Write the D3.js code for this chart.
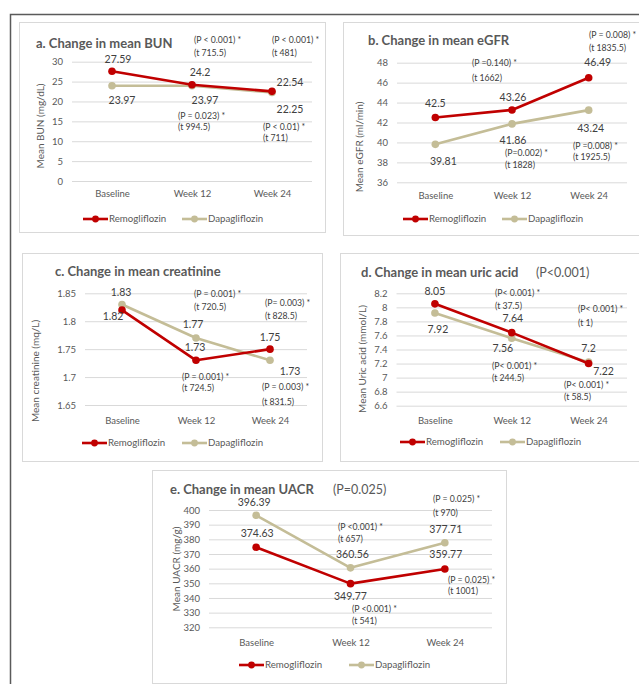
<!DOCTYPE html>
<html>
<head>
<meta charset="utf-8">
<script src="https://cdn.jsdelivr.net/npm/d3@7"></script>
<style>
  html, body { margin: 0; padding: 0; background: #fff; }
  svg { display: block; font-family: Lato, "Open Sans", sans-serif; }
</style>
</head>
<body>
<svg id="chart" width="639" height="684"></svg>
<script>
// ---- data ----
const categories = ["Baseline", "Week 12", "Week 24"];
const seriesNames = ["Remogliflozin", "Dapagliflozin"];

const bunRemo = [27.59, 24.2, 22.54];
const bunDapa = [23.97, 23.97, 22.25];
const bunTicks = [0, 5, 10, 15, 20, 25, 30];

const egfrRemo = [42.5, 43.26, 46.49];
const egfrDapa = [39.81, 41.86, 43.24];
const egfrTicks = [36, 38, 40, 42, 44, 46, 48];

const creatRemo = [1.82, 1.73, 1.75];
const creatDapa = [1.83, 1.77, 1.73];
const creatTicks = [1.65, 1.7, 1.75, 1.8, 1.85];

const uricRemo = [8.05, 7.64, 7.2];
const uricDapa = [7.92, 7.56, 7.22];
const uricTicks = [6.6, 6.8, 7, 7.2, 7.4, 7.6, 7.8, 8, 8.2];

const uacrRemo = [374.63, 349.77, 359.77];
const uacrDapa = [396.39, 360.56, 377.71];
const uacrTicks = [320, 330, 340, 350, 360, 370, 380, 390, 400];

// statistical test annotations: [p-value line, test-statistic line]
const bunStats = [["(P < 0.001) *", "(t 715.5)"], ["(P < 0.001) *", "(t 481)"], ["(P = 0.023) *", "(t 994.5)"], ["(P < 0.01) *", "(t 711)"]];
const egfrStats = [["(P = 0.008) *", "(t 1835.5)"], ["(P =0.140) *", "(t 1662)"], ["(P=0.002) *", "(t 1828)"], ["(P =0.008) *", "(t 1925.5)"]];
const creatStats = [["(P = 0.001) *", "(t 720.5)"], ["(P = 0.001) *", "(t 724.5)"], ["(P= 0.003) *", "(t 828.5)"], ["(P = 0.003) *", "(t 831.5)"]];
const uricStats = [["(P< 0.001) *", "(t 37.5)"], ["(P< 0.001) *", "(t 244.5)"], ["(P< 0.001) *", "(t 1)"], ["(P< 0.001) *", "(t 58.5)"]];
const uacrStats = [["(P <0.001) *", "(t 657)"], ["(P <0.001) *", "(t 541)"], ["(P = 0.025) *", "(t 970)"], ["(P = 0.025) *", "(t 1001)"]];

// ---- styles ----
const COLORS = { remo: "#C00000", dapa: "#C4BD97" };
const TEXT_DARK = "#404040";
const TEXT_MID = "#595959";
const GRID = "#d9d9d9";

// ---- layout of each panel ----
const panels = [
  {
    title: "a. Change in mean BUN", note: null, yTitle: "Mean BUN (mg/dL)",
    remo: bunRemo, dapa: bunDapa, ticks: bunTicks, stats: bunStats,
    box: [19, 22, 306, 210], plot: [72, 312, 61.7, 181],
    titleAt: [36, 47.5], yTitleAt: [40, 126], xLabelY: 197,
    legend: { y: 219, remoX: 83, dapaX: 182 },
    valueOffsets: { remo: [[6, -12], [8, -12], [18, -9]], dapa: [[10, 15], [13, 15], [18, 17]] },
    statsAt: [[194, 40, 53], [272, 40, 53], [178, 116, 127], [263, 127, 138]]
  },
  {
    title: "b. Change in mean eGFR", note: null, yTitle: "Mean eGFR (ml/min)",
    remo: egfrRemo, dapa: egfrDapa, ticks: egfrTicks, stats: egfrStats,
    box: [343, 22, 296, 213], plot: [397, 627, 62.7, 182.3],
    titleAt: [368, 44.5], yTitleAt: [359, 147], xLabelY: 199,
    legend: { y: 219, remoX: 403, dapaX: 502 },
    valueOffsets: { remo: [[0, -14], [1, -13], [9, -15]], dapa: [[8, 17], [1, 16], [2, 18]] },
    statsAt: [[589, 35, 48], [472, 63, 78], [505, 153, 165], [573, 146, 157]]
  },
  {
    title: "c. Change in mean creatinine", note: null, yTitle: "Mean creatinine (mq/L)",
    remo: creatRemo, dapa: creatDapa, ticks: creatTicks, stats: creatStats,
    box: [22, 253, 300, 208], plot: [85, 307, 293.3, 405],
    titleAt: [55, 275.5], yTitleAt: [35, 371], xLabelY: 424,
    legend: { y: 443, remoX: 82, dapaX: 182 },
    valueOffsets: { remo: [[-9, 6], [-1, -13], [0, -12]], dapa: [[-1, -12], [-3, -14], [20, 11]] },
    statsAt: [[194, 294, 307], [182, 377, 388], [265, 303, 316], [262, 387, 402]]
  },
  {
    title: "d. Change in mean uric acid", note: { text: "(P<0.001)", x: 536 }, yTitle: "Mean Uric acid (mmol/L)",
    remo: uricRemo, dapa: uricDapa, ticks: uricTicks, stats: uricStats,
    box: [340, 253, 299, 208], plot: [396.5, 627, 293.3, 405.7],
    titleAt: [361, 276.5], yTitleAt: [362, 359], xLabelY: 424,
    legend: { y: 442, remoX: 400, dapaX: 500 },
    valueOffsets: { remo: [[0, -13], [1, -14], [0, -15]], dapa: [[3, 16], [-9, 10], [15, 9.5]] },
    statsAt: [[495, 293, 306], [492, 366, 378], [578, 309, 323], [564, 384.5, 397]]
  },
  {
    title: "e. Change in mean UACR", note: { text: "(P=0.025)", x: 333 }, yTitle: "Mean UACR (mg/g)",
    remo: uacrRemo, dapa: uacrDapa, ticks: uacrTicks, stats: uacrStats,
    box: [152, 470, 354, 213], plot: [209, 492, 510, 627.3],
    titleAt: [170, 493.5], yTitleAt: [176, 569], xLabelY: 646,
    legend: { y: 665, remoX: 239, dapaX: 349 },
    valueOffsets: { remo: [[1, -14], [0, 13], [1, -15]], dapa: [[-2, -12.5], [2, -14], [1, -13]] },
    statsAt: [[338, 527, 539], [352, 609, 621], [433, 499, 513], [448, 580, 591]]
  }
];

const svg = d3.select("#chart");

// outer frame around the whole figure
svg.append("path")
  .attr("d", "M10.5,684 L10.5,14.5 L639,14.5")
  .attr("fill", "none").attr("stroke", "#5a5a5a").attr("stroke-width", 1.5);

function drawPanel(p) {
  const g = svg.append("g");
  const [bx, by, bw, bh] = p.box;
  g.append("rect").attr("x", bx + 0.5).attr("y", by + 0.5).attr("width", bw).attr("height", bh)
    .attr("fill", "#fff").attr("stroke", GRID).attr("stroke-width", 1);

  const [x0, x1, yTop, yBottom] = p.plot;
  const x = d3.scalePoint().domain(categories).range([x0, x1]).padding(0.5);
  const y = d3.scaleLinear().domain([p.ticks[0], p.ticks[p.ticks.length - 1]]).range([yBottom, yTop]);

  // horizontal gridlines + y tick labels via a left axis
  const yAxis = d3.axisLeft(y).tickValues(p.ticks).tickFormat(d => String(d))
    .tickSize(-(x1 - x0)).tickPadding(9);
  const ya = g.append("g").attr("transform", `translate(${x0},0)`).call(yAxis);
  ya.select(".domain").remove();
  ya.selectAll(".tick line").attr("stroke", GRID).attr("stroke-width", 1);
  ya.selectAll(".tick text").attr("fill", TEXT_MID).style("font-size", "9.5px").style("font-family", "Lato, sans-serif");

  // category labels
  const xAxis = d3.axisBottom(x).tickSize(0).tickPadding(0);
  const xa = g.append("g").attr("transform", `translate(0,${p.xLabelY - 6.5})`).call(xAxis);
  xa.select(".domain").remove();
  xa.selectAll(".tick text").attr("fill", TEXT_MID).style("font-size", "9.5px").style("font-family", "Lato, sans-serif");

  // title
  g.append("text").attr("x", p.titleAt[0]).attr("y", p.titleAt[1])
    .attr("fill", TEXT_MID).style("font-size", "13px").style("font-weight", "bold").text(p.title);
  if (p.note) {
    g.append("text").attr("x", p.note.x).attr("y", p.titleAt[1])
      .attr("fill", TEXT_MID).style("font-size", "12.5px").text(p.note.text);
  }

  // y-axis title
  g.append("text").attr("transform", `translate(${p.yTitleAt[0]},${p.yTitleAt[1]}) rotate(-90)`)
    .attr("text-anchor", "middle").attr("dy", "0.35em")
    .attr("fill", TEXT_MID).style("font-size", "10px").text(p.yTitle);

  // series lines and markers
  const line = d3.line().x((d, i) => x(categories[i])).y(d => y(d));
  [["dapa", p.dapa], ["remo", p.remo]].forEach(([key, vals]) => {
    g.append("path").datum(vals).attr("d", line)
      .attr("fill", "none").attr("stroke", COLORS[key]).attr("stroke-width", 2.6).attr("stroke-linejoin", "round");
    g.selectAll(null).data(vals).join("circle")
      .attr("cx", (d, i) => x(categories[i])).attr("cy", d => y(d)).attr("r", 3.8)
      .attr("fill", COLORS[key]);
  });

  // data value labels
  ["remo", "dapa"].forEach(key => {
    const vals = p[key];
    g.selectAll(null).data(vals).join("text")
      .attr("x", (d, i) => x(categories[i]) + p.valueOffsets[key][i][0])
      .attr("y", (d, i) => y(d) + p.valueOffsets[key][i][1])
      .attr("text-anchor", "middle").attr("dy", "0.35em")
      .attr("fill", TEXT_DARK).style("font-size", "10.5px").text(d => String(d));
  });

  // test statistics
  p.stats.forEach((s, i) => {
    const [sx, sy1, sy2] = p.statsAt[i];
    g.append("text").attr("x", sx).attr("y", sy1).attr("dy", "0.35em")
      .attr("fill", TEXT_DARK).style("font-size", "8.7px").text(s[0]);
    g.append("text").attr("x", sx).attr("y", sy2).attr("dy", "0.35em")
      .attr("fill", TEXT_DARK).style("font-size", "8.7px").text(s[1]);
  });

  // legend
  [["remo", p.legend.remoX, seriesNames[0]], ["dapa", p.legend.dapaX, seriesNames[1]]].forEach(([key, lx, name]) => {
    g.append("line").attr("x1", lx).attr("x2", lx + 25).attr("y1", p.legend.y).attr("y2", p.legend.y)
      .attr("stroke", COLORS[key]).attr("stroke-width", 2.6);
    g.append("circle").attr("cx", lx + 12.5).attr("cy", p.legend.y).attr("r", 3.4).attr("fill", COLORS[key]);
    g.append("text").attr("x", lx + 26).attr("y", p.legend.y).attr("dy", "0.35em")
      .attr("fill", TEXT_MID).style("font-size", "9.7px").text(name);
  });
}

panels.forEach(drawPanel);
</script>
</body>
</html>
